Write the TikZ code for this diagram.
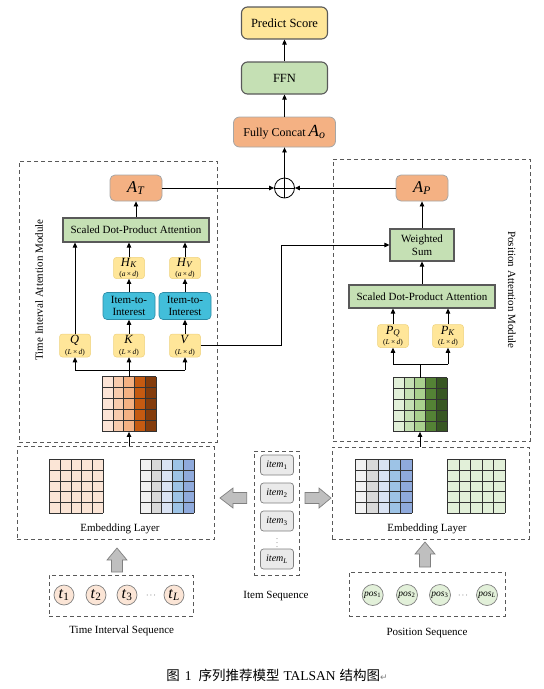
\documentclass[tikz,border=0pt]{standalone}
\usepackage{fontspec}
\setmainfont{Liberation Serif}
\newfontfamily\cjk{Noto Sans CJK SC}
\newfontfamily\djv{DejaVu Sans}
\usetikzlibrary{arrows.meta}
\definecolor{cyel}{HTML}{FFE699}
\definecolor{cyelb}{HTML}{EFD27E}
\definecolor{cgrn}{HTML}{C5E0B4}
\definecolor{corg}{HTML}{F4B183}
\definecolor{corgb}{HTML}{A6A6A6}
\definecolor{ccyan}{HTML}{42BEDA}
\definecolor{ccyanb}{HTML}{2C8BA5}
\definecolor{cbord}{HTML}{595959}
\definecolor{oca}{HTML}{FCE4D6}
\definecolor{ocb}{HTML}{F8CBAD}
\definecolor{occ}{HTML}{F4B183}
\definecolor{ocd}{HTML}{C55A11}
\definecolor{oce}{HTML}{843C0C}
\definecolor{gca}{HTML}{E2F0D9}
\definecolor{gcb}{HTML}{C5E0B4}
\definecolor{gcc}{HTML}{A9D18E}
\definecolor{gcd}{HTML}{548235}
\definecolor{gce}{HTML}{385723}
\definecolor{bca}{HTML}{F2F2F2}
\definecolor{bcb}{HTML}{D9D9D9}
\definecolor{bcc}{HTML}{DAE3F3}
\definecolor{bcd}{HTML}{9DC3E6}
\definecolor{bce}{HTML}{8FAADC}
\definecolor{pch}{HTML}{FBE5D6}
\definecolor{fatg}{HTML}{BFBFBF}
\newcommand\drawmat[6]{%
  \foreach \cc [count=\ii from 0] in {#5} {\fill[\cc] (#1+\ii*#3,#2) rectangle ++(#3,5*#4);}
  \foreach \ii in {0,...,5} {\draw[#6] (#1+\ii*#3,#2) -- ++(0,5*#4); \draw[#6] (#1,#2+\ii*#4) -- ++(5*#3,0);}
}
\newcommand\fatup[3]{\draw[fat] (#1,#2) -- (#1+10,#2+12) -- (#1+5.5,#2+12) -- (#1+5.5,#3) -- (#1-5.5,#3) -- (#1-5.5,#2+12) -- (#1-10,#2+12) -- cycle;}
\newcommand\fatleft[3]{\draw[fat] (#1,#2) -- (#1+13,#2-10) -- (#1+13,#2-5.5) -- (#3,#2-5.5) -- (#3,#2+5.5) -- (#1+13,#2+5.5) -- (#1+13,#2+10) -- cycle;}
\newcommand\fatright[3]{\draw[fat] (#1,#2) -- (#1-12,#2-10) -- (#1-12,#2-5.5) -- (#3,#2-5.5) -- (#3,#2+5.5) -- (#1-12,#2+5.5) -- (#1-12,#2+10) -- cycle;}
\newcommand\bigA[1]{{\fontsize{16.5}{16.5}\selectfont\textit{A}\textsubscript{\textit{#1}}}}
\newcommand\mvar[3]{{\fontsize{12.5}{12.5}\selectfont\textit{#1}\textsubscript{\textit{#2}}}\\[-2pt]{\fontsize{7.5}{7.5}\selectfont(\textit{#3}\,×\,\textit{d})}}
\begin{document}
\begin{tikzpicture}[x=1pt,y=-1pt,
  font=\fontsize{11}{12.5}\selectfont,
  >={Triangle[length=5pt,width=4.5pt]},
  arr/.style={->,line width=0.8pt},
  rbox/.style={draw=cbord,line width=1.1pt,rounded corners=6pt,minimum width=86pt,minimum height=32pt,inner sep=1pt,font=\fontsize{12.5}{13}\selectfont},
  obox/.style={draw=corgb,fill=corg,line width=0.8pt,rounded corners=5pt,minimum width=52pt,minimum height=26pt,inner sep=1pt},
  gbox/.style={draw=cbord,fill=cgrn,line width=1.1pt,inner sep=1pt,align=center},
  ybox/.style={draw=cyelb,fill=cyel,line width=0.5pt,rounded corners=3pt,minimum width=31pt,minimum height=23pt,inner sep=0.5pt,align=center},
  cbox/.style={draw=ccyanb,fill=ccyan,line width=0.6pt,rounded corners=4pt,minimum width=52pt,minimum height=27pt,inner sep=0.5pt,align=center,font=\fontsize{11}{12}\selectfont},
  dbox/.style={draw=cbord,line width=0.9pt,dash pattern=on 4pt off 3pt,inner sep=0pt},
  ibox/.style={draw=gray,fill=bca!70!bcb,line width=0.7pt,rounded corners=3pt,minimum width=33pt,minimum height=20pt,inner sep=0pt,font=\fontsize{10}{10}\selectfont},
  tcirc/.style={circle,draw=gray,fill=pch,line width=0.7pt,minimum size=20pt,inner sep=0pt},
  pcirc/.style={circle,draw=gray,fill=gca,line width=0.7pt,minimum size=21pt,inner sep=0pt,font=\fontsize{9.5}{9.5}\selectfont},
  fat/.style={draw=gray,fill=fatg,line width=0.7pt},
  matl/.style={draw=black!80,line width=0.6pt}]
\useasboundingbox (0,0) rectangle (544,689);
% top chain
\node[rbox,fill=cyel] (ps) at (284.5,23) {Predict Score};
\node[rbox,fill=cgrn] (ffn) at (284.5,78) {FFN};
\node[rbox,fill=corg,draw=corgb,line width=0.8pt,minimum width=102pt,minimum height=30pt,font=\fontsize{12}{13}\selectfont] (fc) at (284.5,132) {Fully Concat\ {\fontsize{17}{17}\selectfont\textit{A}\textsubscript{\textit{o}}}};
\node[circle,draw,line width=0.8pt,minimum size=20pt,inner sep=0pt] (op) at (284.5,188) {};
\draw[line width=0.8pt] (op.north) -- (op.south) (op.west) -- (op.east);
\draw[arr] (op.north) -- (fc.south);
\draw[arr] (fc) -- (ffn);
\draw[arr] (ffn) -- (ps);
% module boxes
\node[dbox,minimum width=198pt,minimum height=281pt] (tmod) at (118,301.5) {};
\node[dbox,minimum width=197pt,minimum height=282pt] (pmod) at (431.5,300) {};
\node[rotate=90] (tlab) at (39,290) {Time Interval Attention Module};
\node[rotate=-90] (plab) at (512,290) {Position Attention Module};
% left module
\node[obox] (at) at (136,188) {\bigA{T}};
\node[gbox,minimum width=146pt,minimum height=24pt] (sdl) at (136,230) {Scaled Dot-Product Attention};
\node[ybox,minimum height=21pt] (hk) at (129,268) {\mvar{H}{K}{a}};
\node[ybox,minimum height=21pt] (hv) at (185,268) {\mvar{H}{V}{a}};
\node[cbox] (i1) at (129,306) {Item-to-\\Interest};
\node[cbox] (i2) at (185,306) {Item-to-\\Interest};
\node[ybox] (q) at (75,345.5) {\mvar{Q}{}{L}};
\node[ybox] (k) at (129,345.5) {\mvar{K}{}{L}};
\node[ybox] (v) at (185,345.5) {\mvar{V}{}{L}};
\drawmat{102}{376.7}{10.8}{11}{oca,ocb,occ,ocd,oce}{matl}
\node[minimum width=54pt,minimum height=55pt,inner sep=0pt] (mL) at (129,404.2) {};
\draw[arr] (at.east) -- (op.west);
\draw[arr] (sdl) -- (at);
\draw[arr] (q.north) -- (q.north |- sdl.south);
\draw[arr] (k) -- (i1);
\draw[arr] (i1) -- (hk);
\draw[arr] (hk.north) -- (hk.north |- sdl.south);
\draw[arr] (v) -- (i2);
\draw[arr] (i2) -- (hv);
\draw[arr] (hv.north) -- (hv.north |- sdl.south);
\coordinate (fl) at (129,370);
\draw[line width=0.8pt] (q.south |- fl) -- (v.south |- fl);
\draw[arr] (mL.north) -- (k.south);
\draw[arr] (q.south |- fl) -- (q.south);
\draw[arr] (v.south |- fl) -- (v.south);
% right module
\node[obox] (ap) at (422,188) {\bigA{P}};
\node[gbox,minimum width=64pt,minimum height=32pt,font=\fontsize{11}{13}\selectfont] (ws) at (422,245) {Weighted\\Sum};
\node[gbox,minimum width=146pt,minimum height=23pt] (sdr) at (422,296.5) {Scaled Dot-Product Attention};
\node[ybox] (pq) at (393,336) {\mvar{P}{Q}{L}};
\node[ybox] (pk) at (448,336) {\mvar{P}{K}{L}};
\drawmat{393}{377.7}{10.8}{10.8}{gca,gcb,gcc,gcd,gce}{matl}
\node[minimum width=54pt,minimum height=54pt,inner sep=0pt] (mR) at (420,404.7) {};
\draw[arr] (ap.west) -- (op.east);
\draw[arr] (ws) -- (ap);
\draw[arr] (sdr) -- (ws);
\draw[arr] (pq.north) -- (pq.north |- sdr.south);
\draw[arr] (pk.north) -- (pk.north |- sdr.south);
\coordinate (fr) at (420,364.3);
\draw[line width=0.8pt] (pq.south |- fr) -- (pk.south |- fr);
\draw[line width=0.8pt] (mR.north) -- (fr);
\draw[arr] (pq.south |- fr) -- (pq.south);
\draw[arr] (pk.south |- fr) -- (pk.south);
\coordinate (vt) at (281,300);
\draw[arr] (v.east) -- (v.east -| vt) -- (vt |- ws.west) -- (ws.west);
% embedding layers
\node[dbox,minimum width=197pt,minimum height=93pt] (embL) at (115.5,493.3) {};
\node[dbox,minimum width=197pt,minimum height=92pt] (embR) at (430.5,493) {};
\drawmat{49.3}{459.3}{10.8}{10.8}{pch,pch,pch,pch,pch}{matl}
\drawmat{140}{459.3}{10.8}{10.8}{bca,bcb,bcc,bcd,bce}{matl}
\drawmat{355}{459.3}{11.4}{10.8}{bca,bcb,bcc,bcd,bce}{matl}
\drawmat{447.3}{459.3}{11.5}{10.8}{gca,gca,gca,gca,gca}{matl}
\node (embLt) at (120,529) {Embedding Layer};
\node (embRt) at (427,529) {Embedding Layer};
\draw[arr] (embL.north -| mL) -- (mL.south);
\draw[arr] (embR.north -| mR) -- (mR.south);
% item sequence
\node[dbox,minimum width=45pt,minimum height=124pt] (iseq) at (276.5,513) {};
\node[ibox] (it1) at (277,465) {\textit{item}\textsubscript{1}};
\node[ibox] (it2) at (277,493) {\textit{item}\textsubscript{2}};
\node[ibox] (it3) at (277,521) {\textit{item}\textsubscript{3}};
\node[font=\fontsize{6}{6}\selectfont,inner sep=0pt] (itd) at (277,540.5) {$\vdots$};
\node[ibox] (itL) at (277,559) {\textit{item}\textsubscript{\textit{L}}};
\node (iseqt) at (276,596) {Item Sequence};
\fatleft{220}{498}{246.7}
\fatright{331}{498}{305}
% time interval sequence
\node[dbox,minimum width=144pt,minimum height=41pt] (tseq) at (121,595.5) {};
\node[tcirc] (t1) at (64,595) {{\fontsize{16}{16}\selectfont\textit{t}\textsubscript{1}}};
\node[tcirc] (t2) at (96,595) {{\fontsize{16}{16}\selectfont\textit{t}\textsubscript{2}}};
\node[tcirc] (t3) at (127,595) {{\fontsize{16}{16}\selectfont\textit{t}\textsubscript{3}}};
\node[font=\fontsize{8}{8}\selectfont] (tdots) at (151,596) {$\cdots$};
\node[tcirc] (tL) at (174,595) {{\fontsize{16}{16}\selectfont\textit{t}\textsubscript{\textit{L}}}};
\node (tseqt) at (121.7,631) {Time Interval Sequence};
\fatup{117}{548}{572}
% position sequence
\node[dbox,minimum width=156pt,minimum height=44pt] (pseq) at (427,594) {};
\node[pcirc] (p1) at (372.7,595) {\textit{pos}\textsubscript{1}};
\node[pcirc] (p2) at (407,595) {\textit{pos}\textsubscript{2}};
\node[pcirc] (p3) at (440,595) {\textit{pos}\textsubscript{3}};
\node[font=\fontsize{8}{8}\selectfont] (pdots) at (463,596) {$\cdots$};
\node[pcirc] (pL) at (487,595) {\textit{pos}\textsubscript{\textit{L}}};
\node (pseqt) at (427,633) {Position Sequence};
\fatup{425}{542}{567}
% caption
\node[font=\fontsize{13.5}{15}\selectfont] (cap) at (277,675) {{\cjk 图}\hspace{5pt}1\hspace{7pt}{\cjk 序列推荐模型}\hspace{4pt}TALSAN\hspace{4pt}{\cjk 结构图}{\djv\fontsize{9}{9}\selectfont\color{gray}↵}};
\end{tikzpicture}
\end{document}
